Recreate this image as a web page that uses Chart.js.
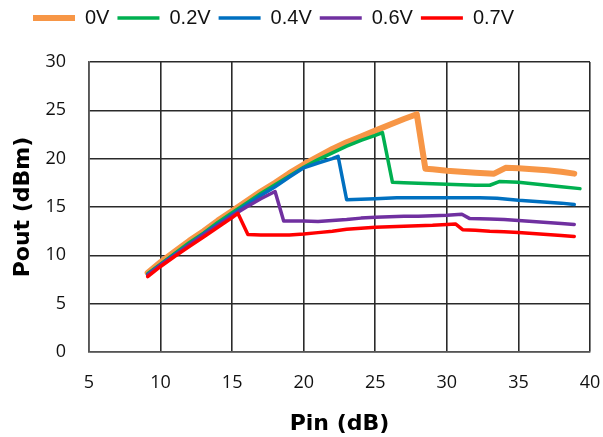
<!DOCTYPE html>
<html>
<head>
<meta charset="utf-8">
<script src="https://cdn.jsdelivr.net/npm/chart.js@4/dist/chart.umd.min.js"></script>
<style>
html,body{margin:0;padding:0;background:#fff;}
#wrap{width:603px;height:437px;position:relative;}
</style>
</head>
<body>
<div id="wrap"><canvas id="c"></canvas></div>
<script>
// Series labels
const seriesLabels = ['0V', '0.2V', '0.4V', '0.6V', '0.7V'];

// Pin (dB) and Pout (dBm)
const pin0V  = [9.1, 10, 11, 12, 13, 14, 15, 16, 17, 18, 19, 20, 21, 22, 23, 24, 25, 26, 27, 27.9, 28.5, 29, 30, 31, 32, 33.3, 34.1, 35, 36, 37, 38, 38.9];
const pout0V = [8.2, 9.3, 10.4, 11.5, 12.5, 13.6, 14.6, 15.6, 16.6, 17.5, 18.5, 19.4, 20.2, 21.0, 21.7, 22.3, 22.9, 23.5, 24.1, 24.6, 18.95, 18.9, 18.75, 18.65, 18.55, 18.45, 19.05, 19.0, 18.9, 18.8, 18.65, 18.45];

const pin02V  = [9.1, 10, 11, 12, 13, 14, 15, 16, 17, 18, 19, 20, 21, 22, 23, 24, 25, 25.5, 26.2, 27, 28, 29, 30, 31, 32, 33, 33.7, 35, 36, 37, 38, 39.3];
const pout02V = [8.1, 9.1, 10.2, 11.3, 12.3, 13.4, 14.4, 15.4, 16.4, 17.3, 18.2, 19.1, 19.9, 20.6, 21.3, 21.9, 22.4, 22.7, 17.55, 17.5, 17.45, 17.4, 17.35, 17.3, 17.25, 17.25, 17.65, 17.55, 17.4, 17.25, 17.1, 16.9];

const pin04V  = [9.1, 10, 11, 12, 13, 14, 15, 16, 17, 18, 19, 20, 21, 22, 22.4, 23.0, 24, 25, 26.5, 28, 30, 32.3, 33.5, 35, 36, 37, 38, 38.9];
const pout04V = [8.0, 9.0, 10.1, 11.1, 12.2, 13.2, 14.2, 15.2, 16.2, 17.1, 18.1, 19.05, 19.55, 20.0, 20.25, 15.75, 15.8, 15.85, 15.95, 15.95, 15.95, 15.95, 15.9, 15.7, 15.6, 15.5, 15.4, 15.25];

const pin06V  = [9.1, 10, 11, 12, 13, 14, 15, 16, 17, 18.0, 18.6, 19, 20, 21, 22, 23, 24, 25, 26, 27, 28, 29, 30, 31.05, 31.6, 33, 34, 35, 36, 37, 38, 38.9];
const pout06V = [7.95, 9.0, 10.0, 11.1, 12.1, 13.1, 14.1, 15.0, 15.85, 16.6, 13.55, 13.55, 13.55, 13.5, 13.6, 13.7, 13.85, 13.95, 14.0, 14.05, 14.05, 14.1, 14.15, 14.25, 13.8, 13.75, 13.7, 13.6, 13.5, 13.4, 13.3, 13.2];

const pin07V  = [9.1, 10, 11, 12, 13, 14, 15, 15.4, 16.1, 17, 18, 19, 20, 21, 22, 23, 24, 25, 26, 27, 28, 29, 30, 30.6, 31.1, 32, 33, 34, 35, 36, 37, 38, 38.9];
const pout07V = [7.8, 8.85, 9.9, 10.9, 11.9, 12.9, 13.9, 14.35, 12.15, 12.1, 12.1, 12.1, 12.2, 12.35, 12.5, 12.7, 12.8, 12.9, 12.95, 13.0, 13.05, 13.1, 13.2, 13.25, 12.65, 12.6, 12.5, 12.45, 12.35, 12.25, 12.15, 12.05, 11.95];

// Axis ticks
const xTicks = [5, 10, 15, 20, 25, 30, 35, 40];
const yTicks = [0, 5, 10, 15, 20, 25, 30];

const pinSets  = [pin0V, pin02V, pin04V, pin06V, pin07V];
const poutSets = [pout0V, pout02V, pout04V, pout06V, pout07V];
const colors = ['#F79646', '#00B050', '#0070C0', '#7030A0', '#FF0000'];
const widths = [6, 3.5, 3.5, 3.5, 3.5];

const datasets = seriesLabels.map((lab, i) => ({
  label: lab,
  data: pinSets[i].map((p, k) => ({x: p, y: poutSets[i][k]})),
  borderColor: colors[i],
  backgroundColor: colors[i],
  borderWidth: widths[i],
  borderCapStyle: 'round',
  borderJoinStyle: 'round',
  pointRadius: 0,
  pointHoverRadius: 0,
  tension: 0,
  fill: false,
  order: 5 - i
}));

const legendShift = {
  id: 'legendShift',
  beforeDraw(chart) {
    if (chart.legend) {
      chart.legend.left = 25;
    }
  }
};

const gridColor = '#2a2a2a';

new Chart(document.getElementById('c'), {
  type: 'line',
  data: { datasets },
  plugins: [legendShift],
  options: {
    responsive: true,
    maintainAspectRatio: false,
    animation: false,
    layout: { padding: { left: 0, right: 13, top: 0, bottom: 0 } },
    plugins: {
      tooltip: { enabled: false },
      title: {
        display: true,
        text: '',
        position: 'top',
        weight: 500,
        font: { size: 10 },
        padding: { top: 12, bottom: 0 }
      },
      legend: {
        position: 'top',
        align: 'start',
        labels: {
          usePointStyle: true,
          pointStyle: 'line',
          pointStyleWidth: 42,
          boxHeight: 6,
          padding: 8,
          color: '#111',
          font: { family: '"Liberation Sans", Arial, sans-serif', size: 20 },
          sort: (a, b) => a.datasetIndex - b.datasetIndex
        }
      }
    },
    scales: {
      x: {
        type: 'linear',
        min: 5, max: 40,
        afterBuildTicks: (s) => { s.ticks = xTicks.map(v => ({value: v})); },
        afterFit: (s) => { s.height = 85; s.paddingLeft = 0; s.paddingRight = 0; },
        ticks: {
          padding: 20,
          color: '#111',
          font: { family: '"Open Sans", sans-serif', size: 18 },
          maxRotation: 0
        },
        grid: { color: gridColor, lineWidth: 1.6, drawTicks: false },
        border: { color: '#555', width: 1.6 },
        title: {
          display: true,
          text: 'Pin (dB)',
          color: '#000',
          font: { family: '"DejaVu Sans", sans-serif', size: 22, weight: 'bold' },
          padding: { top: 4, bottom: 0 }
        }
      },
      y: {
        type: 'linear',
        min: 0, max: 30,
        afterBuildTicks: (s) => { s.ticks = yTicks.map(v => ({value: v})); },
        afterFit: (s) => { s.width = 89; },
        ticks: {
          padding: 23,
          color: '#111',
          font: { family: '"Open Sans", sans-serif', size: 18 }
        },
        grid: { color: gridColor, lineWidth: 1.6, drawTicks: false },
        border: { color: '#555', width: 1.6 },
        title: {
          display: true,
          text: 'Pout (dBm)',
          color: '#000',
          font: { family: '"DejaVu Sans", sans-serif', size: 22, weight: 'bold' },
          padding: { top: 10, bottom: 0 }
        }
      }
    }
  }
});
</script>
</body>
</html>
